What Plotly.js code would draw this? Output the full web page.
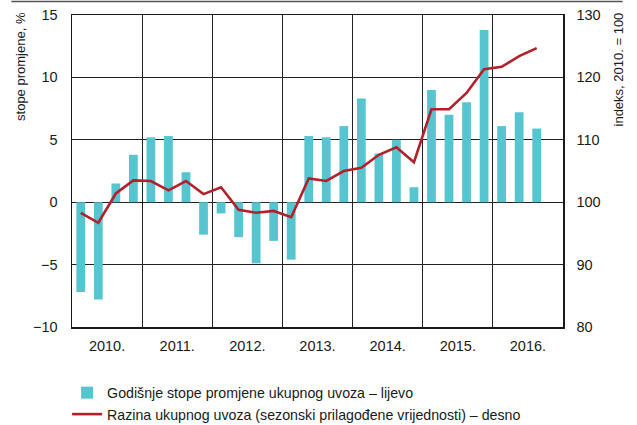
<!DOCTYPE html>
<html>
<head>
<meta charset="utf-8">
<script src="https://cdn.plot.ly/plotly-3.0.1.min.js"></script>
<style>html,body{margin:0;padding:0;background:#fff;}#chart{width:637px;height:425px;}</style>
</head>
<body>
<div id="chart"></div>
<script>
// Quarterly data 2010 Q1 – 2016 Q3
const years = ['2010.', '2011.', '2012.', '2013.', '2014.', '2015.', '2016.'];
const quarterIndex = [0,1,2,3,4,5,6,7,8,9,10,11,12,13,14,15,16,17,18,19,20,21,22,23,24,25,26];
const annualGrowth = [-7.2, -7.8, 1.5, 3.8, 5.2, 5.3, 2.4, -2.6, -0.9, -2.8, -4.9, -3.1, -4.6, 5.3, 5.2, 6.1, 8.3, 3.9, 5.0, 1.2, 9.0, 7.0, 8.0, 13.8, 6.1, 7.2, 5.9];
const importLevel = [98.3, 96.7, 101.4, 103.5, 103.4, 101.9, 103.4, 101.3, 102.4, 98.8, 98.3, 98.6, 97.6, 103.8, 103.4, 105.0, 105.5, 107.6, 108.8, 106.4, 114.9, 114.9, 117.5, 121.3, 121.7, 123.4, 124.7];
const barName = 'Godišnje stope promjene ukupnog uvoza – lijevo';
const lineName = 'Razina ukupnog uvoza (sezonski prilagođene vrijednosti) – desno';

const xPos = quarterIndex.map(i => i + 0.5);
const yearCenters = years.map((y, i) => i * 4 + 2);

const FONT = '"Liberation Sans Narrow", "Arial Narrow", "Liberation Sans", Arial, sans-serif';
const INK = '#1a1a1a';

const traces = [
  {
    type: 'bar', x: xPos, y: annualGrowth, name: barName,
    marker: {color: '#57c5d0', line: {width: 0}}, width: 0.5,
    yaxis: 'y'
  },
  {
    type: 'scatter', mode: 'lines', x: xPos, y: importLevel, name: lineName,
    line: {color: '#b3202c', width: 2.6}, yaxis: 'y2'
  }
];

const layout = {
  width: 637, height: 425,
  margin: {l: 71.7, r: 73.7, t: 15, b: 98.3, autoexpand: false},
  paper_bgcolor: '#fff', plot_bgcolor: '#fff',
  font: {family: FONT, size: 14.5, color: INK},
  showlegend: true,
  legend: {
    x: -0.01, y: -0.16, xanchor: 'left', yanchor: 'top',
    orientation: 'v', bgcolor: 'rgba(0,0,0,0)',
    font: {family: FONT, size: 14.2, color: INK},
    tracegroupgap: 0, itemwidth: 30
  },
  xaxis: {
    range: [0, 28], tickmode: 'array', tickvals: yearCenters, ticktext: years,
    showgrid: false, zeroline: false, ticks: '',
    showline: true, linecolor: INK, linewidth: 1.5, mirror: true,
    ticklabelstandoff: 5,
    minor: {tickmode: 'linear', tick0: 0, dtick: 4, showgrid: true, gridcolor: '#222', gridwidth: 1, ticks: ''},
    fixedrange: true
  },
  yaxis: {
    range: [-10, 15], tickmode: 'linear', tick0: -10, dtick: 5,
    tickformat: 'd',
    showgrid: true, gridcolor: '#222', gridwidth: 1,
    zeroline: true, zerolinecolor: '#222', zerolinewidth: 1,
    showline: true, linecolor: INK, linewidth: 1.5, mirror: true,
    ticks: '', ticklabelstandoff: 10,
    fixedrange: true
  },
  yaxis2: {
    range: [80, 130], tickmode: 'linear', tick0: 80, dtick: 10,
    overlaying: 'y', side: 'right',
    showgrid: false, zeroline: false,
    showline: true, linecolor: INK, linewidth: 1.5,
    ticks: '', ticklabelstandoff: 9,
    fixedrange: true
  },
  annotations: [
    {text: 'stope promjene, %', xref: 'paper', yref: 'paper', x: -0.105, y: 1.016,
     xanchor: 'center', yanchor: 'top', textangle: -90, showarrow: false,
     font: {family: FONT, size: 13, color: INK}},
    {text: 'indeks, 2010. = 100', xref: 'paper', yref: 'paper', x: 1.113, y: 1.016,
     xanchor: 'center', yanchor: 'top', textangle: -90, showarrow: false,
     font: {family: FONT, size: 13, color: INK}}
  ],
  shapes: [
    {type: 'line', xref: 'paper', yref: 'paper', x0: -0.1235, x1: 1.1215, y0: 1.043, y1: 1.043,
     line: {color: '#555', width: 1.5}}
  ]
};

Plotly.newPlot('chart', traces, layout, {displayModeBar: false, staticPlot: true});
</script>
</body>
</html>
